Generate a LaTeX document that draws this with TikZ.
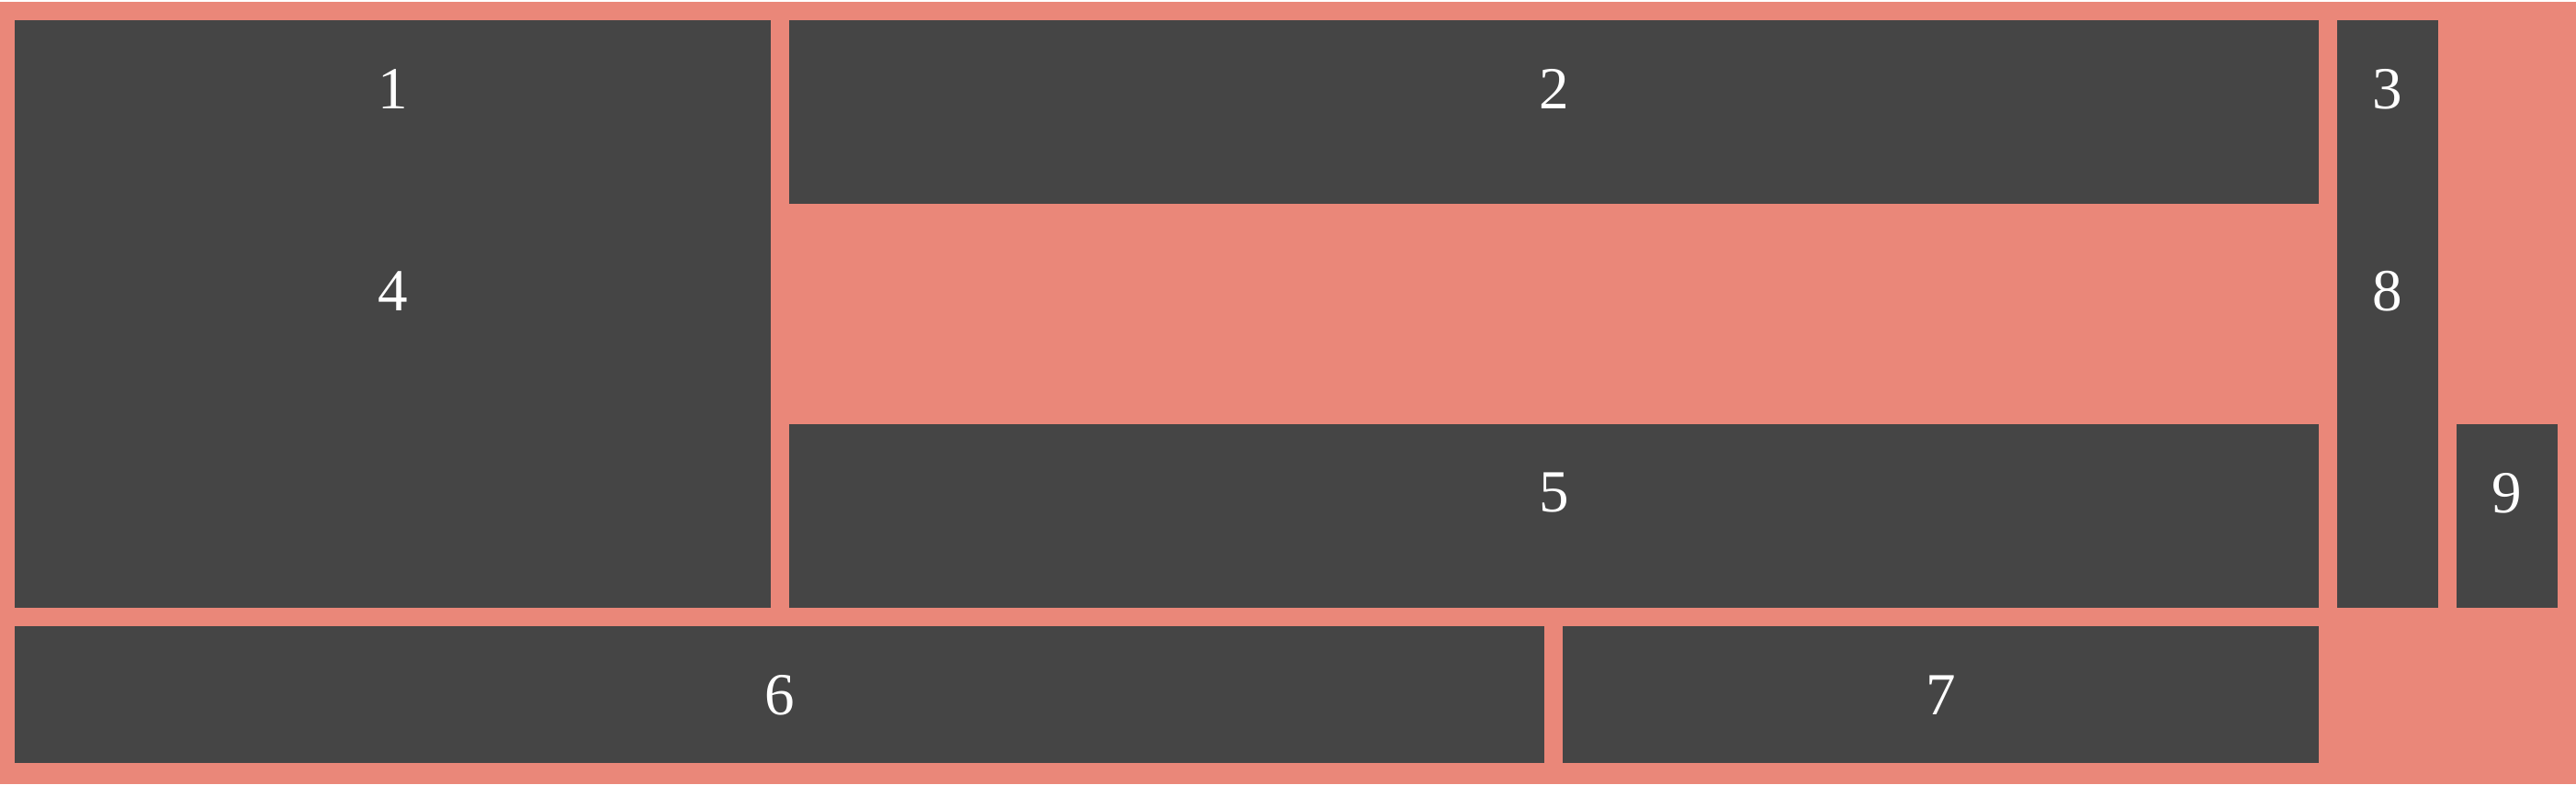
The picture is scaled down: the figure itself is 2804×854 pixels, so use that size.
\documentclass[tikz,border=0pt]{standalone}
\usepackage{fontspec}
\setmainfont{Liberation Serif}
\usepackage{tikz}
\usetikzlibrary{positioning}
\definecolor{salmonbg}{RGB}{234,135,121}
\definecolor{tiledark}{RGB}{69,69,69}

\begin{document}
\begin{tikzpicture}[x=0.01cm,y=-0.01cm,tile/.style={fill=tiledark},num/.style={text=white,font=\fontsize{18.5}{22}\selectfont,inner sep=0pt}]
\useasboundingbox (0,0) rectangle (2804,854);
\fill[white] (0,0) rectangle (2804,2);
\fill[salmonbg] (0,2) rectangle (2804,854);
% tiles
\fill[tile] (16,22) rectangle (839,222);
\fill[tile] (16,222) rectangle (839,662);
\fill[tile] (859,22) rectangle (2524,222);
\fill[tile] (2544,22) rectangle (2654,222);
\fill[tile] (2544,222) rectangle (2654,662);
\fill[tile] (859,462) rectangle (2524,662);
\fill[tile] (2674,462) rectangle (2784,662);
\fill[tile] (16,682) rectangle (1681,831);
\fill[tile] (1701,682) rectangle (2524,831);
% numbers
\node[num] (one) at (427.5,97){1};
\node[num] (two) at (1691.5,97){2};
\node[num] (three) at (2599,97){3};
\node[num] (four) at (427.5,317){4};
\node[num] (eight) at (2599,317){8};
\node[num] (five) at (1691.5,537){5};
\node[num] (nine) at (2729,537){9};
\node[num] (six) at (848.5,757){6};
\node[num] (seven) at (2112.5,757){7};
\end{tikzpicture}
\end{document}
